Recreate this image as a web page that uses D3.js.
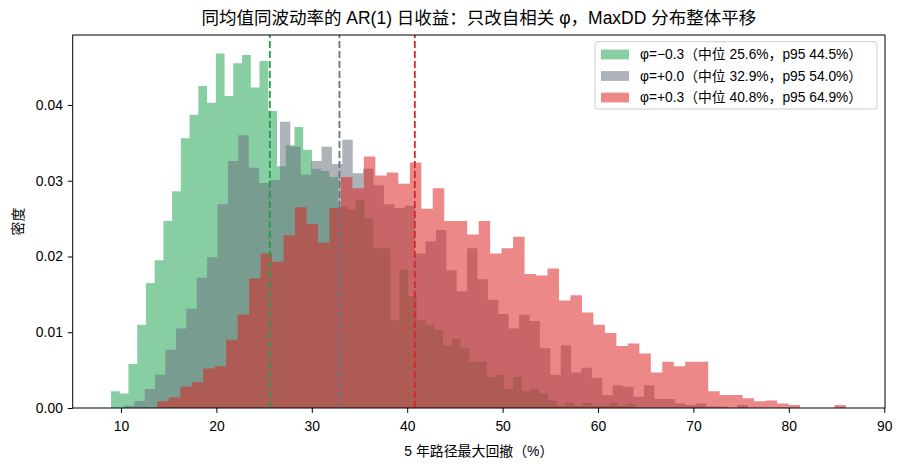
<!DOCTYPE html>
<html>
<head>
<meta charset="utf-8">
<script src="https://cdn.jsdelivr.net/npm/d3@7"></script>
<style>
body { margin: 0; background: #fff; }
text { font-family: "Liberation Sans", "Noto Sans CJK SC", sans-serif; fill: #000; }
</style>
</head>
<body>
<svg id="chart" width="903" height="466"></svg>
<script>
// series labels and colours (one per phi value)
var seriesNames = [
  "φ=−0.3（中位 25.6%，p95 44.5%）",
  "φ=+0.0（中位 32.9%，p95 54.0%）",
  "φ=+0.3（中位 40.8%，p95 64.9%）"
];
var seriesColors = ["#27a658", "#6b7280", "#dc2626"];
var lineColors = ["#239a47", "#6b7280", "#d62728"];

// histogram bins: first edge and bin width (in %), 60 bins each
var binStart = [8.95, 10.31, 13.805];
var binWidth = [0.916, 1.090, 1.203];

// densities
var greenDensity = [
  0.0022, 0.0019, 0.0058, 0.0110, 0.0165, 0.0195, 0.0247, 0.0286, 0.0356, 0.0387,
  0.0425, 0.0403, 0.0468, 0.0412, 0.0455, 0.0466, 0.0423, 0.0458, 0.0392, 0.0319,
  0.0347, 0.0371, 0.0341, 0.0316, 0.0313, 0.0305, 0.0266, 0.0262, 0.0275, 0.0250,
  0.0211, 0.0211, 0.0116, 0.0183, 0.0148, 0.0116, 0.0110, 0.0103, 0.0083, 0.0091,
  0.0080, 0.0061, 0.0061, 0.0041, 0.0044, 0.0025, 0.0041, 0.0022, 0.0025, 0.0019,
  0.0010, 0.0003, 0.0007, 0.0003, 0.0007, 0.0003, 0.0003, 0.0007, 0.0003, 0.0005
];
var grayDensity = [
  0.0003, 0.0009, 0.0025, 0.0044, 0.0077, 0.0105, 0.0131, 0.0172, 0.0199, 0.0269,
  0.0326, 0.0360, 0.0317, 0.0297, 0.0301, 0.0378, 0.0345, 0.0308, 0.0326, 0.0345,
  0.0322, 0.0354, 0.0310, 0.0316, 0.0294, 0.0269, 0.0264, 0.0267, 0.0204, 0.0220,
  0.0235, 0.0182, 0.0154, 0.0211, 0.0170, 0.0143, 0.0124, 0.0105, 0.0123, 0.0115,
  0.0079, 0.0044, 0.0083, 0.0047, 0.0053, 0.0040, 0.0017, 0.0030, 0.0028, 0.0015,
  0.0030, 0.0012, 0.0012, 0.0006, 0.0004, 0.0006, 0.0002, 0.0002, 0.0000, 0.0004
];
var redDensity = [
  0.0009, 0.0014, 0.0028, 0.0034, 0.0052, 0.0055, 0.0090, 0.0123, 0.0171, 0.0204,
  0.0193, 0.0228, 0.0265, 0.0243, 0.0218, 0.0264, 0.0305, 0.0290, 0.0332, 0.0307,
  0.0311, 0.0296, 0.0324, 0.0263, 0.0290, 0.0247, 0.0247, 0.0229, 0.0247, 0.0204,
  0.0211, 0.0226, 0.0177, 0.0175, 0.0184, 0.0142, 0.0149, 0.0126, 0.0110, 0.0099,
  0.0082, 0.0085, 0.0072, 0.0047, 0.0061, 0.0055, 0.0061, 0.0061, 0.0022, 0.0017,
  0.0017, 0.0013, 0.0009, 0.0010, 0.0006, 0.0004, 0.0000, 0.0000, 0.0000, 0.0004
];
var medians = [25.6, 32.9, 40.8];

var xTicks = [10, 20, 30, 40, 50, 60, 70, 80, 90];
var yTicks = [0, 0.01, 0.02, 0.03, 0.04];

var titleText = "同均值同波动率的 AR(1) 日收益：只改自相关 φ，MaxDD 分布整体平移";
var xLabel = "5 年路径最大回撤（%）";
var yLabel = "密度";

// plot box (note: "top" is taken by window.top, so use other names)
var plotLeft = 72.7, plotRight = 885, plotTop = 35, plotBottom = 408;

var svg = d3.select("#chart");

var x = d3.scaleLinear().domain([4.94, 90.08]).range([plotLeft, plotRight]);
var y = d3.scaleLinear().domain([0, 0.04924]).range([plotBottom, plotTop]);

// histograms as step areas
var allDensity = [greenDensity, grayDensity, redDensity];
var area = d3.area()
  .curve(d3.curveStepAfter)
  .x(function(d) { return x(d.x); })
  .y0(y(0))
  .y1(function(d) { return y(d.v); });

allDensity.forEach(function(dens, s) {
  var pts = dens.map(function(v, i) { return {x: binStart[s] + i * binWidth[s], v: v}; });
  pts.push({x: binStart[s] + dens.length * binWidth[s], v: dens[dens.length - 1]});
  svg.append("path")
    .datum(pts)
    .attr("d", area)
    .attr("fill", seriesColors[s])
    .attr("fill-opacity", 0.55);
});

// median lines
medians.forEach(function(m, s) {
  svg.append("line")
    .attr("x1", x(m)).attr("x2", x(m))
    .attr("y1", plotBottom).attr("y2", plotTop)
    .attr("stroke", lineColors[s])
    .attr("stroke-width", 1.8)
    .attr("stroke-dasharray", "7,3");
});

// axes
var xAxis = svg.append("g")
  .attr("transform", "translate(0," + plotBottom + ")")
  .call(d3.axisBottom(x).tickValues(xTicks).tickSize(4.9).tickPadding(8.7).tickFormat(d3.format("d")));
var yAxis = svg.append("g")
  .attr("transform", "translate(" + plotLeft + ",0)")
  .call(d3.axisLeft(y).tickValues(yTicks).tickSize(4.9).tickPadding(4.9).tickFormat(d3.format(".2f")));

[xAxis, yAxis].forEach(function(a) {
  a.select(".domain").remove();
  a.selectAll(".tick line").attr("stroke", "#000").attr("stroke-width", 1);
  a.selectAll(".tick text").style("font-size", "13.9px").attr("fill", "#000");
});

// frame
svg.append("rect")
  .attr("x", plotLeft).attr("y", plotTop)
  .attr("width", plotRight - plotLeft).attr("height", plotBottom - plotTop)
  .attr("fill", "none").attr("stroke", "#000").attr("stroke-width", 1);

// titles
svg.append("text")
  .attr("x", (plotLeft + plotRight) / 2).attr("y", 24)
  .attr("text-anchor", "middle")
  .style("font-size", "17.5px")
  .text(titleText);

svg.append("text")
  .attr("x", (plotLeft + plotRight) / 2).attr("y", 456)
  .attr("text-anchor", "middle")
  .style("font-size", "13.9px")
  .text(xLabel);

svg.append("text")
  .attr("transform", "translate(23," + ((plotTop + plotBottom) / 2) + ") rotate(-90)")
  .attr("text-anchor", "middle")
  .style("font-size", "13.9px")
  .text(yLabel);

// legend
var legend = svg.append("g").attr("transform", "translate(595,41.7)");
legend.append("rect")
  .attr("width", 282).attr("height", 67.3)
  .attr("rx", 3)
  .attr("fill", "#fff").attr("fill-opacity", 0.8)
  .attr("stroke", "#cccccc").attr("stroke-width", 1);

seriesNames.forEach(function(name, s) {
  var row = legend.append("g").attr("transform", "translate(6," + (12.8 + s * 21.5) + ")");
  row.append("rect")
    .attr("x", 0).attr("y", -4.9)
    .attr("width", 28).attr("height", 9.8)
    .attr("fill", seriesColors[s]).attr("fill-opacity", 0.55);
  row.append("text")
    .attr("x", 39).attr("y", 0)
    .attr("dy", "0.36em")
    .style("font-size", "13.8px")
    .text(name);
});
</script>
</body>
</html>
